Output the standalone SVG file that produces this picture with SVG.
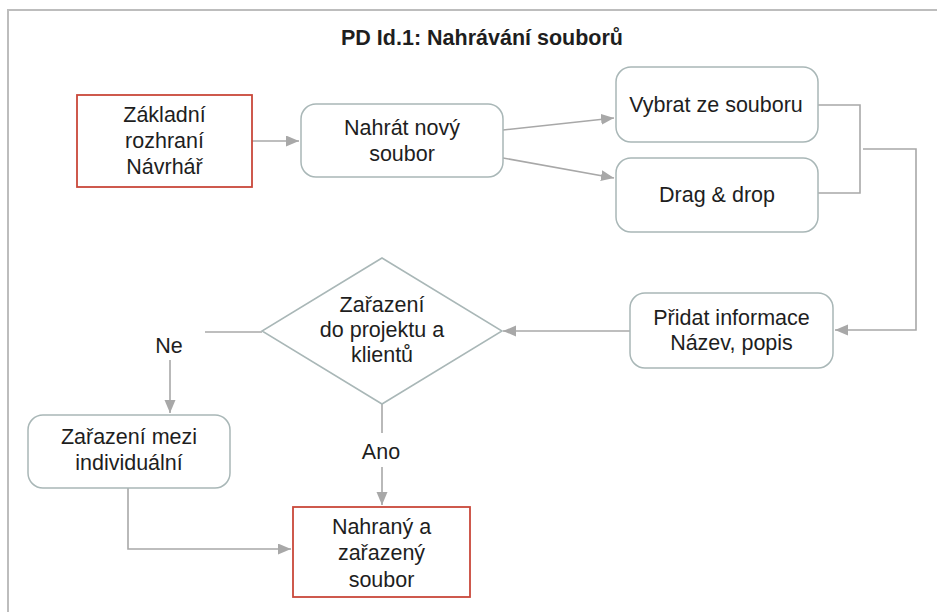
<svg xmlns="http://www.w3.org/2000/svg" width="937" height="612" viewBox="0 0 937 612">
  <style>
    text { font-family: "Liberation Sans", Arial, sans-serif; font-size: 21.5px; fill: #1e1e1e; text-anchor: middle; }
    .title { font-weight: bold; font-size: 21.5px; }
    .rbox { fill: #ffffff; stroke: #a9b7b7; stroke-width: 1.5; }
    .start { fill: #ffffff; stroke: #c9483a; stroke-width: 1.8; }
    .conn { fill: none; stroke: #a8a8a8; stroke-width: 1.6; }
    .frame { fill: none; stroke: #bdbdbd; stroke-width: 2; }
  </style>
  <defs>
    <marker id="arrow" markerUnits="userSpaceOnUse" markerWidth="14" markerHeight="12" refX="13" refY="5.5" orient="auto">
      <path d="M0,0 L13,5.5 L0,11 Z" fill="#a8a8a8"/>
    </marker>
  </defs>

  <rect width="937" height="612" fill="#ffffff"/>
  <!-- page frame -->
  <path class="frame" d="M8,612 V10 H937"/>

  <text class="title" x="482" y="45">PD Id.1: Nahrávání souborů</text>

  <!-- connectors -->
  <g id="connectors">
    <line class="conn" x1="252" y1="141" x2="299" y2="141" marker-end="url(#arrow)"/>
    <line class="conn" x1="503" y1="130" x2="614" y2="118" marker-end="url(#arrow)"/>
    <line class="conn" x1="503" y1="158" x2="614" y2="178" marker-end="url(#arrow)"/>
    <path class="conn" d="M818,105 H860 V193 H818"/>
    <path class="conn" d="M863,149 H916 V330 H835" marker-end="url(#arrow)"/>
    <line class="conn" x1="630" y1="331" x2="503" y2="331" marker-end="url(#arrow)"/>
    <line class="conn" x1="262" y1="332" x2="205" y2="332"/>
    <line class="conn" x1="170" y1="360" x2="170" y2="413" marker-end="url(#arrow)"/>
    <line class="conn" x1="382" y1="404" x2="382" y2="433"/>
    <line class="conn" x1="382" y1="467" x2="382" y2="505" marker-end="url(#arrow)"/>
    <path class="conn" d="M128,488 V549 H291" marker-end="url(#arrow)"/>
    <text x="169" y="353">Ne</text>
    <text x="381" y="459">Ano</text>
  </g>

  <g id="zakladni-rozhrani">
    <rect class="start" x="77" y="95" width="175" height="92"/>
    <text x="164.5" y="122">Základní</text>
    <text x="164.5" y="148">rozhraní</text>
    <text x="164.5" y="174">Návrhář</text>
  </g>

  <g id="nahrat-novy-soubor">
    <rect class="rbox" x="301" y="104" width="202" height="73" rx="15"/>
    <text x="402" y="135">Nahrát nový</text>
    <text x="402" y="161">soubor</text>
  </g>

  <g id="vybrat-ze-souboru">
    <rect class="rbox" x="616" y="67" width="202" height="75" rx="15"/>
    <text x="716" y="112">Vybrat ze souboru</text>
  </g>

  <g id="drag-and-drop">
    <rect class="rbox" x="616" y="158" width="202" height="74" rx="15"/>
    <text x="717" y="202">Drag &amp; drop</text>
  </g>

  <g id="pridat-informace">
    <rect class="rbox" x="630" y="293" width="203" height="75" rx="15"/>
    <text x="731.5" y="325">Přidat informace</text>
    <text x="731.5" y="350">Název, popis</text>
  </g>

  <g id="zarazeni-rozhodnuti">
    <polygon class="rbox" points="382,258 502,331 382,404 262,331"/>
    <text x="382" y="312">Zařazení</text>
    <text x="382" y="337">do projektu a</text>
    <text x="382" y="362">klientů</text>
  </g>

  <g id="zarazeni-individualni">
    <rect class="rbox" x="28" y="415" width="202" height="73" rx="15"/>
    <text x="129" y="444">Zařazení mezi</text>
    <text x="129" y="470">individuální</text>
  </g>

  <g id="nahrany-soubor">
    <rect class="start" x="293" y="507" width="177" height="90"/>
    <text x="381.5" y="534">Nahraný a</text>
    <text x="381.5" y="560">zařazený</text>
    <text x="381.5" y="587">soubor</text>
  </g>
</svg>
